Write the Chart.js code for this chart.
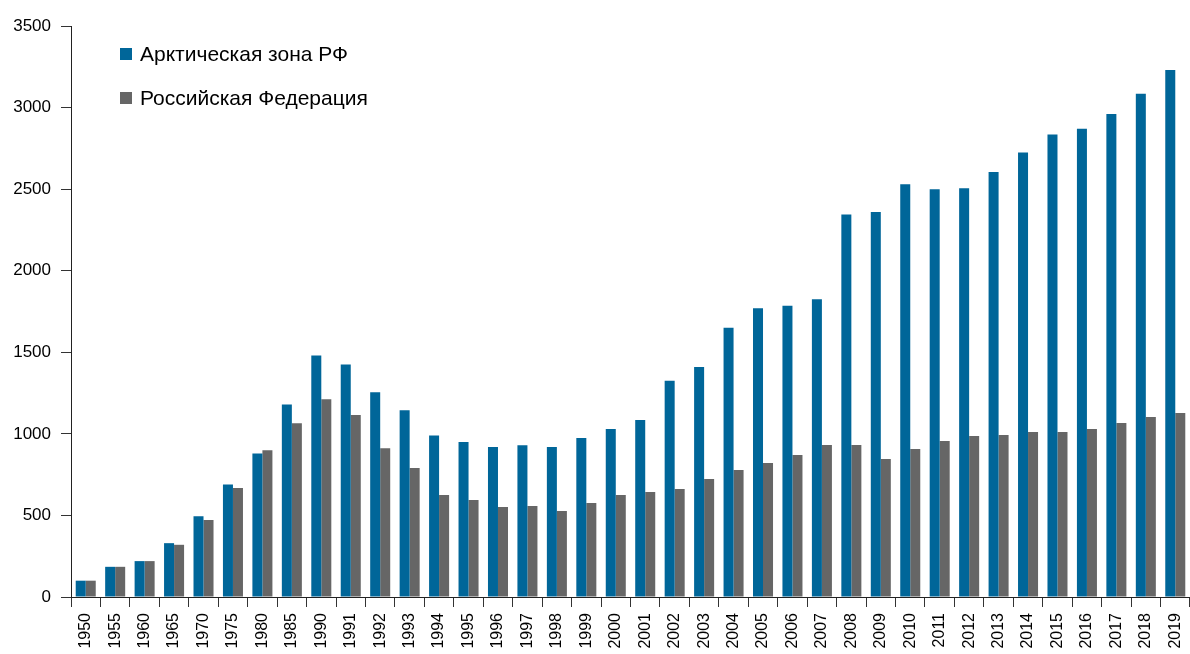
<!DOCTYPE html>
<html>
<head>
<meta charset="utf-8">
<script src="https://cdn.jsdelivr.net/npm/chart.js@4/dist/chart.umd.min.js"></script>
<style>
  body { margin: 0; background: #fff; }
  #wrap { position: relative; width: 1190px; height: 654px; }
  .legend { position: absolute; left: 120px; font-family: "Liberation Sans", Arial, sans-serif; font-size: 21px; color: #000; line-height: 21px; }
  .legend span { display: inline-block; width: 12px; height: 12px; margin-right: 8px; vertical-align: 1px; }
</style>
</head>
<body>
<div id="wrap">
  <canvas id="bars" width="1190" height="654"></canvas>
  <div class="legend" style="top:43px"><span style="background:#006699"></span>Арктическая зона РФ</div>
  <div class="legend" style="top:87px"><span style="background:#666666"></span>Российская Федерация</div>
</div>
<script>
var years = ["1950", "1955", "1960", "1965", "1970", "1975", "1980", "1985", "1990", "1991",
             "1992", "1993", "1994", "1995", "1996", "1997", "1998", "1999", "2000", "2001",
             "2002", "2003", "2004", "2005", "2006", "2007", "2008", "2009", "2010", "2011",
             "2012", "2013", "2014", "2015", "2016", "2017", "2018", "2019"];

var arctic = [100, 185, 220, 330, 495, 690, 880, 1180, 1480, 1425,
              1255, 1145, 990, 950, 920, 930, 920, 975, 1030, 1085,
              1325, 1410, 1650, 1770, 1785, 1825, 2345, 2360, 2530, 2500,
              2505, 2605, 2725, 2835, 2870, 2960, 3085, 3230];

var russia = [100, 185, 220, 320, 472, 668, 900, 1065, 1212, 1115,
              912, 790, 625, 595, 552, 558, 527, 576, 625, 644,
              662, 723, 778, 821, 870, 932, 932, 846, 907, 956,
              987, 993, 1011, 1011, 1030, 1067, 1103, 1128];

var yTicks = { min: 0, max: 3500, step: 500 };

var ctx = document.getElementById("bars").getContext('2d');

var chart = new Chart(ctx, {
    type: 'bar',
    data: {
        labels: years,
        datasets: [{
            label: "Арктическая зона РФ",
            data: arctic,
            backgroundColor: '#006699'
        }, {
            label: "Российская Федерация",
            data: russia,
            backgroundColor: '#666666'
        }]
    },
    options: {
        responsive: false,
        animation: false,
        layout: { padding: { top: 26, left: 0, right: 0, bottom: 0 } },
        categoryPercentage: 0.68,
        barPercentage: 1.0,
        plugins: {
            legend: { display: false },
            tooltip: { enabled: false }
        },
        scales: {
            x: {
                grid: { drawOnChartArea: false, drawTicks: true, tickLength: 10, color: '#333' },
                border: { display: true, color: '#222', width: 1 },
                ticks: {
                    autoSkip: false,
                    minRotation: 90,
                    maxRotation: 90,
                    padding: 6,
                    color: '#000',
                    font: { family: '"Liberation Sans", Arial, sans-serif', size: 16 }
                },
                afterFit: function (scale) {
                    scale.height = 57;
                    scale.paddingRight = 0;
                    scale.paddingLeft = 0;
                }
            },
            y: {
                min: yTicks.min,
                max: yTicks.max,
                grid: { drawOnChartArea: false, drawTicks: true, tickLength: 10, color: '#333' },
                border: { display: true, color: '#222', width: 1 },
                ticks: {
                    stepSize: yTicks.step,
                    padding: 10,
                    color: '#000',
                    font: { family: '"Liberation Sans", Arial, sans-serif', size: 17 },
                    callback: function (v) { return String(v); }
                },
                afterFit: function (scale) { scale.width = 71; }
            }
        }
    }
});
</script>
</body>
</html>
